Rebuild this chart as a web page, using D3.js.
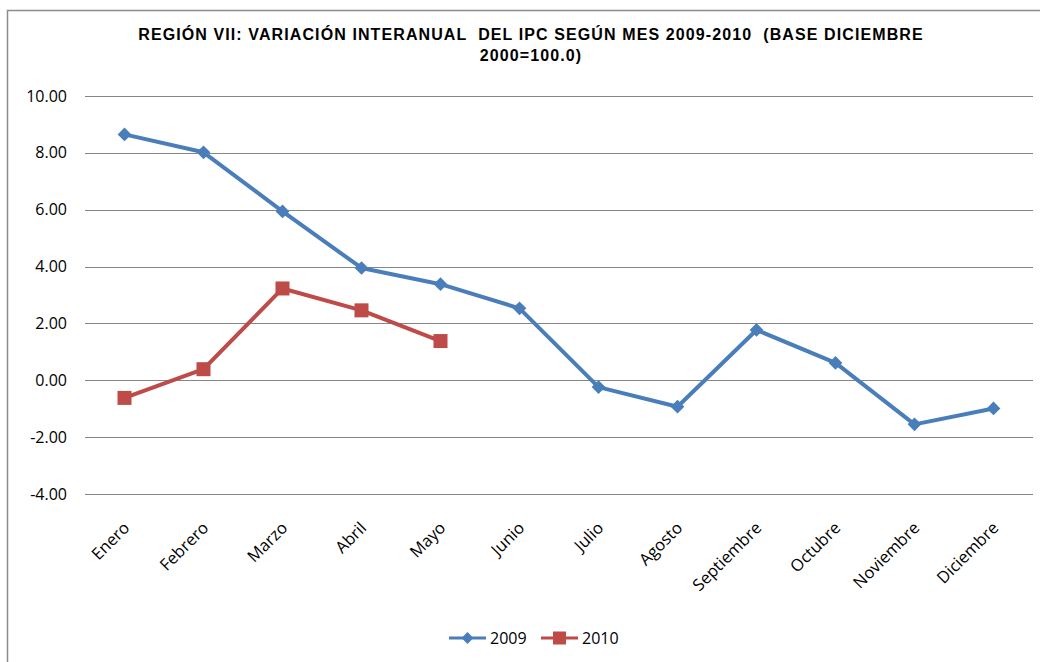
<!DOCTYPE html>
<html>
<head>
<meta charset="utf-8">
<title>IPC Region VII</title>
<script src="https://cdn.jsdelivr.net/npm/d3@7"></script>
<style>
  body { margin: 0; background: #fff; }
  text { font-family: "Open Sans", "Noto Sans", sans-serif; }
</style>
</head>
<body>
<svg id="svg"></svg>
<script>
var WIDTH = 1040, HEIGHT = 662;
var months = ["Enero","Febrero","Marzo","Abril","Mayo","Junio","Julio","Agosto","Septiembre","Octubre","Noviembre","Diciembre"];
var v2009 = [8.65, 8.02, 5.94, 3.95, 3.38, 2.53, -0.24, -0.93, 1.77, 0.61, -1.55, -0.99];
var v2010 = [-0.62, 0.39, 3.23, 2.46, 1.38];
var yTicks = [-4, -2, 0, 2, 4, 6, 8, 10];

var svg = d3.select('#svg').attr('width', WIDTH).attr('height', HEIGHT);

// chart border
svg.append('rect').attr('x', 7.5).attr('y', 10.5).attr('width', 1040).attr('height', 660)
   .attr('fill', 'none').attr('stroke', '#8c8c8c').attr('stroke-width', 1.5);

var x = d3.scaleBand().domain(months).range([85, 1033]);
var y = d3.scaleLinear().domain([-4, 10]).range([494, 96]);

// title
var title = svg.append('text').attr('text-anchor', 'middle')
   .attr('xml:space', 'preserve').style('white-space', 'pre')
   .style('font-family', '"Liberation Sans Narrow", "Liberation Sans", sans-serif')
   .style('font-weight', 'bold').style('font-size', '16px')
   .style('letter-spacing', '1.1px').attr('fill', '#000');
title.append('tspan').attr('x', 531).attr('y', 40).text('REGIÓN VII: VARIACIÓN INTERANUAL  DEL IPC SEGÚN MES 2009-2010  (BASE DICIEMBRE');
title.append('tspan').attr('x', 531).attr('y', 61).text('2000=100.0)');

// gridlines
svg.append('g').selectAll('line').data(yTicks).enter().append('line')
   .attr('x1', 85).attr('x2', 1033)
   .attr('y1', function(d){ return Math.round(y(d)) + 0.5; })
   .attr('y2', function(d){ return Math.round(y(d)) + 0.5; })
   .attr('stroke', '#868686').attr('stroke-width', 1);

// y labels
svg.append('g').selectAll('text').data(yTicks).enter().append('text')
   .attr('x', 67).attr('y', function(d){ return y(d); })
   .attr('dy', '0.35em').attr('text-anchor', 'end')
   .style('font-size', '16px').attr('fill', '#000')
   .text(function(d){ return d.toFixed(2); });

// x labels
svg.append('g').selectAll('text').data(months).enter().append('text')
   .attr('text-anchor', 'end')
   .attr('transform', function(d){
       return 'translate(' + (x(d) + x.bandwidth()/2 + 6) + ',529) rotate(-45)';
   })
   .style('font-size', '16.5px').attr('fill', '#000')
   .text(function(d){ return d; });

var cx = function(d, i){ return x(months[i]) + x.bandwidth()/2; };
var line = d3.line().x(cx).y(function(d){ return y(d); });

var BLUE = '#4a7ebb', RED = '#be4b48';

svg.append('path').datum(v2009).attr('d', line)
   .attr('fill', 'none').attr('stroke', BLUE).attr('stroke-width', 4).attr('stroke-linejoin', 'round');
svg.append('g').selectAll('path').data(v2009).enter().append('path')
   .attr('d', d3.symbol().type(d3.symbolDiamond2).size(120))
   .attr('transform', function(d, i){ return 'translate(' + cx(d, i) + ',' + y(d) + ')'; })
   .attr('fill', BLUE);

svg.append('path').datum(v2010).attr('d', line)
   .attr('fill', 'none').attr('stroke', RED).attr('stroke-width', 4).attr('stroke-linejoin', 'round');
svg.append('g').selectAll('rect').data(v2010).enter().append('rect')
   .attr('x', function(d, i){ return cx(d, i) - 7; })
   .attr('y', function(d){ return y(d) - 7; })
   .attr('width', 14).attr('height', 14)
   .attr('fill', RED);

// legend
var legend = [{name: '2009', color: BLUE, x: 449, sym: 'diamond'}, {name: '2010', color: RED, x: 541, sym: 'square'}];
var lg = svg.append('g').selectAll('g').data(legend).enter().append('g')
   .attr('transform', function(d){ return 'translate(' + d.x + ',638)'; });
lg.append('line').attr('x1', 0).attr('x2', 37).attr('y1', 0).attr('y2', 0)
   .attr('stroke', function(d){ return d.color; }).attr('stroke-width', 3);
lg.append('path')
   .attr('d', function(d){
       return d.sym === 'diamond' ? d3.symbol().type(d3.symbolDiamond2).size(90)() : 'M-6.5,-6.5H6.5V6.5H-6.5Z';
   })
   .attr('transform', 'translate(18.5,0)')
   .attr('fill', function(d){ return d.color; });
lg.append('text').attr('x', 41).attr('y', 0).attr('dy', '0.35em')
   .style('font-size', '16px').attr('fill', '#000')
   .text(function(d){ return d.name; });
</script>
</body>
</html>
